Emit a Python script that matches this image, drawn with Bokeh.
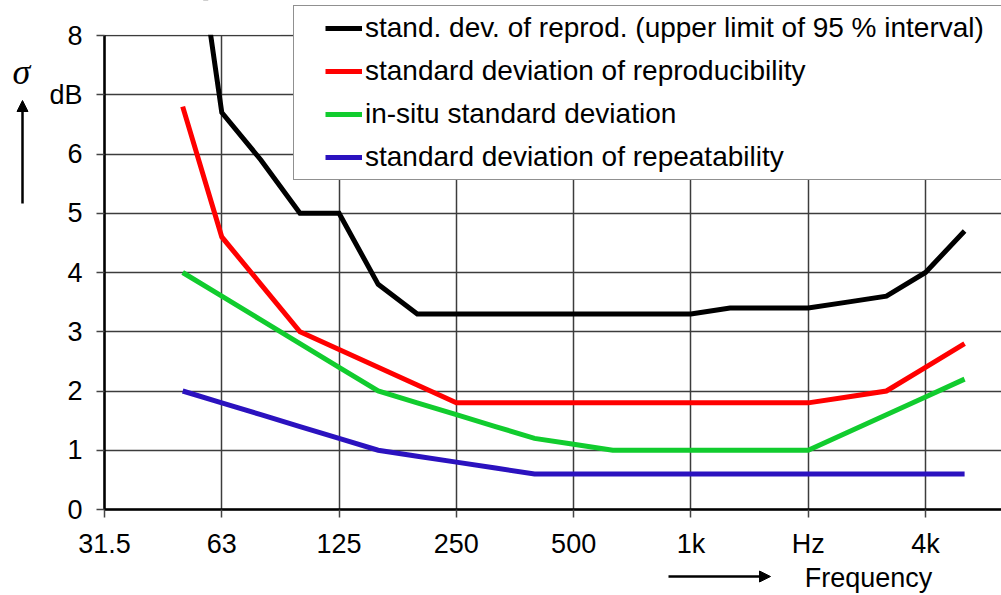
import numpy as np
from bokeh.plotting import figure
from bokeh.models import (Range1d, FixedTicker, Legend, LegendItem, Label, Arrow,
                          NormalHead, ColumnDataSource, BoxAnnotation)
from bokeh.embed import file_html
from bokeh.resources import INLINE

# third-octave band centre frequencies (Hz)
freqs = [50, 63, 80, 100, 125, 160, 200, 250, 315, 400, 500, 630, 800,
         1000, 1250, 1600, 2000, 2500, 3150, 4000, 5000]

upper_limit = [11.3, 6.7, 5.9, 5.0, 5.0, 3.8, 3.3, 3.3, 3.3, 3.3, 3.3, 3.3, 3.3,
               3.3, 3.4, 3.4, 3.4, 3.5, 3.6, 4.0, 4.7]
reproducibility = [6.8, 4.6, 3.8, 3.0, 2.7, 2.4, 2.1, 1.8, 1.8, 1.8, 1.8, 1.8, 1.8,
                   1.8, 1.8, 1.8, 1.8, 1.9, 2.0, 2.4, 2.8]
in_situ = [4.0, 3.6, 3.2, 2.8, 2.4, 2.0, 1.8, 1.6, 1.4, 1.2, 1.1, 1.0, 1.0,
           1.0, 1.0, 1.0, 1.0, 1.3, 1.6, 1.9, 2.2]
repeatability = [2.0, 1.8, 1.6, 1.4, 1.2, 1.0, 0.9, 0.8, 0.7, 0.6, 0.6, 0.6, 0.6,
                 0.6, 0.6, 0.6, 0.6, 0.6, 0.6, 0.6, 0.6]

x_tick_freqs = [31.5, 63, 125, 250, 500, 1000, 2000, 4000]
x_tick_labels = ["31.5", "63", "125", "250", "500", "1k", "Hz", "4k"]
y_ticks = [0, 1, 2, 3, 4, 5, 6, 7, 8]
y_tick_labels = ["0", "1", "2", "3", "4", "5", "6", "dB", "8"]

series_names = ["stand. dev. of reprod. (upper limit of 95 % interval)",
                "standard deviation of reproducibility",
                "in-situ standard deviation",
                "standard deviation of repeatability"]
series_colors = ["#000000", "#ff0000", "#11cc2e", "#2b12bf"]

# band index relative to 31.5 Hz (1/3 octave steps)
def band(f):
    return np.round(3 * np.log2(np.asarray(f, dtype=float) / 31.5))

xb = band(freqs)
xt = band(x_tick_freqs)

FONT = "Liberation Sans"

# layout: canvas pixels, frame covers whole canvas, axes at fixed locations
W, H = 1001, 595
PX_X = 39.095      # pixels per 1/3 octave band
PX_Y = 59.25       # pixels per dB
AX_LEFT, AX_BOTTOM = 104, 86   # axis positions (px from left / bottom)
x0 = -AX_LEFT / PX_X
x1 = (W - AX_LEFT) / PX_X
y0 = -AX_BOTTOM / PX_Y
y1 = (H - AX_BOTTOM) / PX_Y
y_top = y_ticks[-1]

p = figure(width=W, height=H, output_backend="svg", toolbar_location=None,
           x_range=Range1d(x0, x1), y_range=Range1d(y0, y1),
           min_border_left=0, min_border_right=0, min_border_top=0,
           min_border_bottom=0, title=None)
p.outline_line_color = None
p.background_fill_color = "white"
p.border_fill_color = "white"

for ax in (p.xaxis, p.yaxis):
    ax.axis_line_color = "black"
    ax.axis_line_width = 2.5
    ax.major_tick_line_color = "#444444"
    ax.major_tick_line_width = 1.5
    ax.major_tick_out = 8
    ax.major_tick_in = 0
    ax.minor_tick_line_color = None
    ax.major_label_text_font = FONT
    ax.major_label_text_font_size = "27px"
    ax.major_label_text_color = "black"

p.xaxis.fixed_location = 0
p.xaxis.bounds = (0, x1)
p.xaxis.ticker = FixedTicker(ticks=list(xt))
p.xaxis.major_label_overrides = {float(t): l for t, l in zip(xt, x_tick_labels)}
p.xaxis.major_label_standoff = 11
p.yaxis.fixed_location = 0
p.yaxis.bounds = (0, y_top)
p.yaxis.ticker = FixedTicker(ticks=y_ticks)
p.yaxis.major_label_overrides = {t: l for t, l in zip(y_ticks, y_tick_labels)}
p.yaxis.major_label_standoff = 14

for g in (p.xgrid, p.ygrid):
    g.grid_line_color = "#3c3c3c"
    g.grid_line_width = 1.5
p.xgrid.ticker = FixedTicker(ticks=list(xt))
p.xgrid.bounds = (0, x1)
p.xgrid.cross_bounds = (0, y_top)
p.ygrid.ticker = FixedTicker(ticks=y_ticks)
p.ygrid.bounds = (0, y_top)
p.ygrid.cross_bounds = (0, x1)

renderers = []
for vals, c in zip([upper_limit, reproducibility, in_situ, repeatability], series_colors):
    src = ColumnDataSource(dict(x=xb, y=vals))
    r = p.line("x", "y", source=src, line_color=c, line_width=5, line_join="miter")
    renderers.append(r)

# plot area ends at the top gridline: white cover over anything drawn above it
mask_bottom = y_top + 1.0 / PX_Y
p.quad(left=[0], right=[x1 + 1], bottom=[mask_bottom], top=[y1 + 5],
       fill_color="white", fill_alpha=1.0, line_color=None)
p.add_layout(BoxAnnotation(left=0, right=xt[1] + 1.5, bottom=mask_bottom,
                           fill_color="white", fill_alpha=1.0, line_color=None,
                           level="overlay"))

# legend background box (empty-item legend used as frame)
dummy = p.line([0, 0], [0, 0], line_alpha=0)
box = Legend(items=[LegendItem(label=" ", renderers=[dummy])],
             location=(293, 415), padding=0, margin=0, glyph_width=0, glyph_height=173,
             label_width=740, label_height=173, label_standoff=0,
             border_line_color="#222222", border_line_width=1.5,
             background_fill_color="white", background_fill_alpha=1.0,
             label_text_font_size="1px")
p.add_layout(box, "center")

legend = Legend(items=[LegendItem(label=n, renderers=[r]) for n, r in zip(series_names, renderers)],
                location=(319, 415), padding=6, margin=0, spacing=9,
                glyph_width=37, glyph_height=34, label_height=34, label_standoff=3,
                border_line_alpha=0, background_fill_alpha=0,
                label_text_font=FONT, label_text_font_size="28px",
                label_text_color="black")
p.add_layout(legend, "center")

# sigma label and arrows
p.add_layout(Label(x=21, y=524, x_units="screen", y_units="screen", text="σ",
                   text_font="Liberation Serif", text_font_style="italic",
                   text_font_size="36px", text_align="center", text_baseline="middle",
                   text_color="black"))
p.add_layout(Arrow(x_start=22, y_start=392, x_end=22, y_end=495,
                   start_units="screen", end_units="screen", line_width=2.5,
                   line_color="black",
                   end=NormalHead(size=11, fill_color="black", line_color="black")))
p.add_layout(Label(x=868, y=18, x_units="screen", y_units="screen", text="Frequency",
                   text_font=FONT, text_font_size="27px", text_align="center",
                   text_baseline="middle", text_color="black"))
p.add_layout(Arrow(x_start=668, y_start=19, x_end=770, y_end=19,
                   start_units="screen", end_units="screen", line_width=2.5,
                   line_color="black",
                   end=NormalHead(size=11, fill_color="black", line_color="black")))

open("out.html", "w").write(file_html(p, INLINE))
